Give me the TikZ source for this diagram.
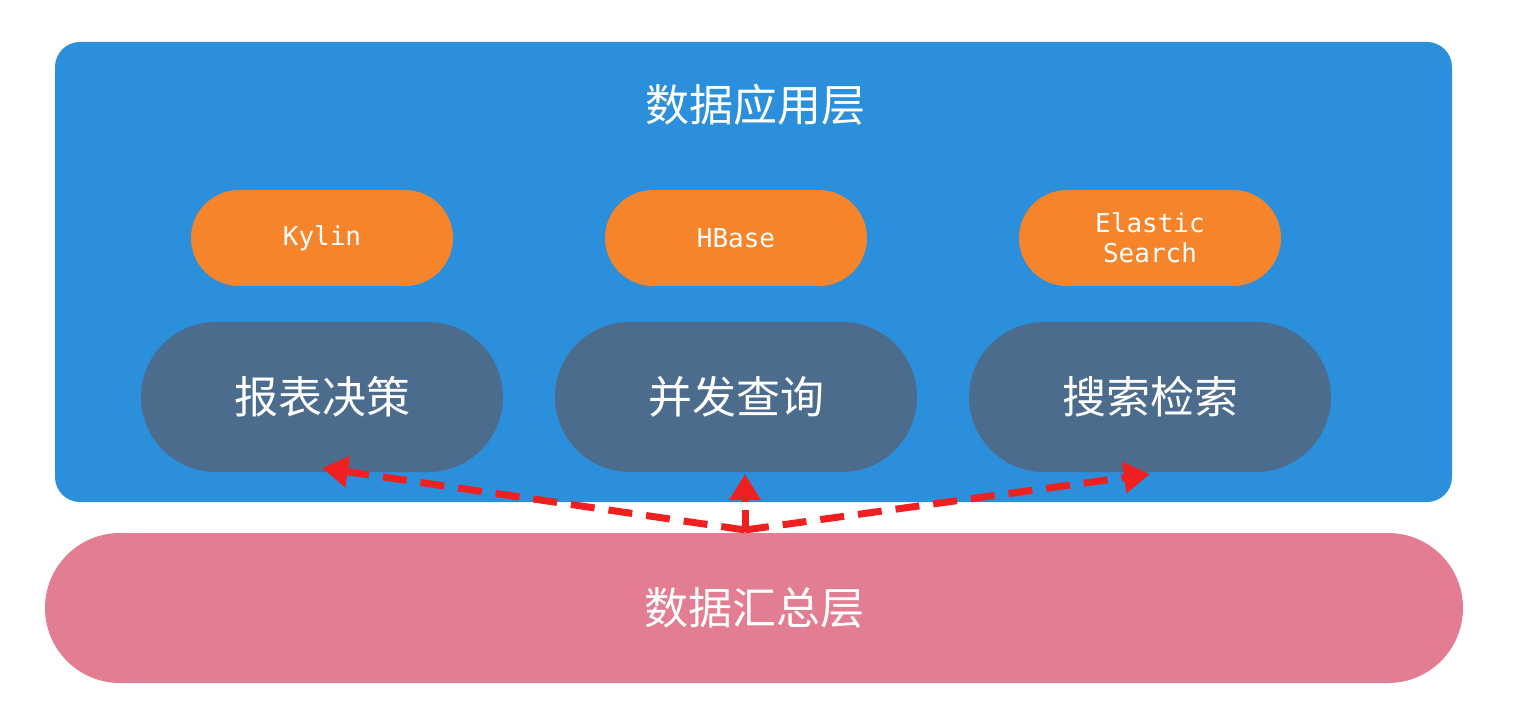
\documentclass[tikz,border=0pt]{standalone}
\usepackage{fontspec}
\newfontfamily\cjk{Noto Sans CJK SC}
\newfontfamily\mono{DejaVu Sans Mono}
\usetikzlibrary{arrows.meta}
\definecolor{bluebg}{HTML}{2B8FDB}
\definecolor{orangep}{HTML}{F5842B}
\definecolor{darkp}{HTML}{4C6C8E}
\definecolor{pinkp}{HTML}{E27D92}
\definecolor{redar}{HTML}{F02020}
\begin{document}
\begin{tikzpicture}[x=1pt,y=-1pt,
  tool/.style={fill=orangep,rounded corners=48pt,minimum width=262pt,minimum height=96pt,text=white,font=\mono\fontsize{26}{30}\selectfont,align=center,inner sep=0pt},
  usecase/.style={fill=darkp,rounded corners=75pt,minimum width=362pt,minimum height=150pt,text=white,font=\cjk\fontsize{44}{50}\selectfont,inner sep=0pt},
  flow/.style={redar,line width=7pt,dash pattern=on 24pt off 14pt,-{Triangle[length=26pt,width=30pt]}}]
\useasboundingbox (0,0) rectangle (1516,727);
\fill[white] (0,0) rectangle (1516,727);
\fill[bluebg,rounded corners=25pt] (55,42) rectangle (1452,502);
\node[text=white,font=\cjk\fontsize{44}{50}\selectfont] (title) at (755,105) {数据应用层};
\node[tool] (kylin) at (322,238) {Kylin};
\node[tool] (hbase) at (736,238) {HBase};
\node[tool] (es) at (1150,238) {Elastic\\Search};
\node[usecase] (report) at (322,397) {报表决策};
\node[usecase] (query) at (736,397) {并发查询};
\node[usecase] (search) at (1150,397) {搜索检索};
\node[fill=pinkp,rounded corners=75pt,minimum width=1418pt,minimum height=150pt,text=white,font=\cjk\fontsize{44}{50}\selectfont,inner sep=0pt] (sum) at (754,608) {数据汇总层};
\coordinate (o) at (745,530);
\coordinate (a1) at (322,468);
\coordinate (a2) at (745,474);
\coordinate (a3) at (1150,474);
\draw[flow] (o) -- (a1);
\draw[flow,dash pattern=on 20pt off 8pt] (o) -- (a2);
\draw[flow] (o) -- (a3);
\end{tikzpicture}
\end{document}
